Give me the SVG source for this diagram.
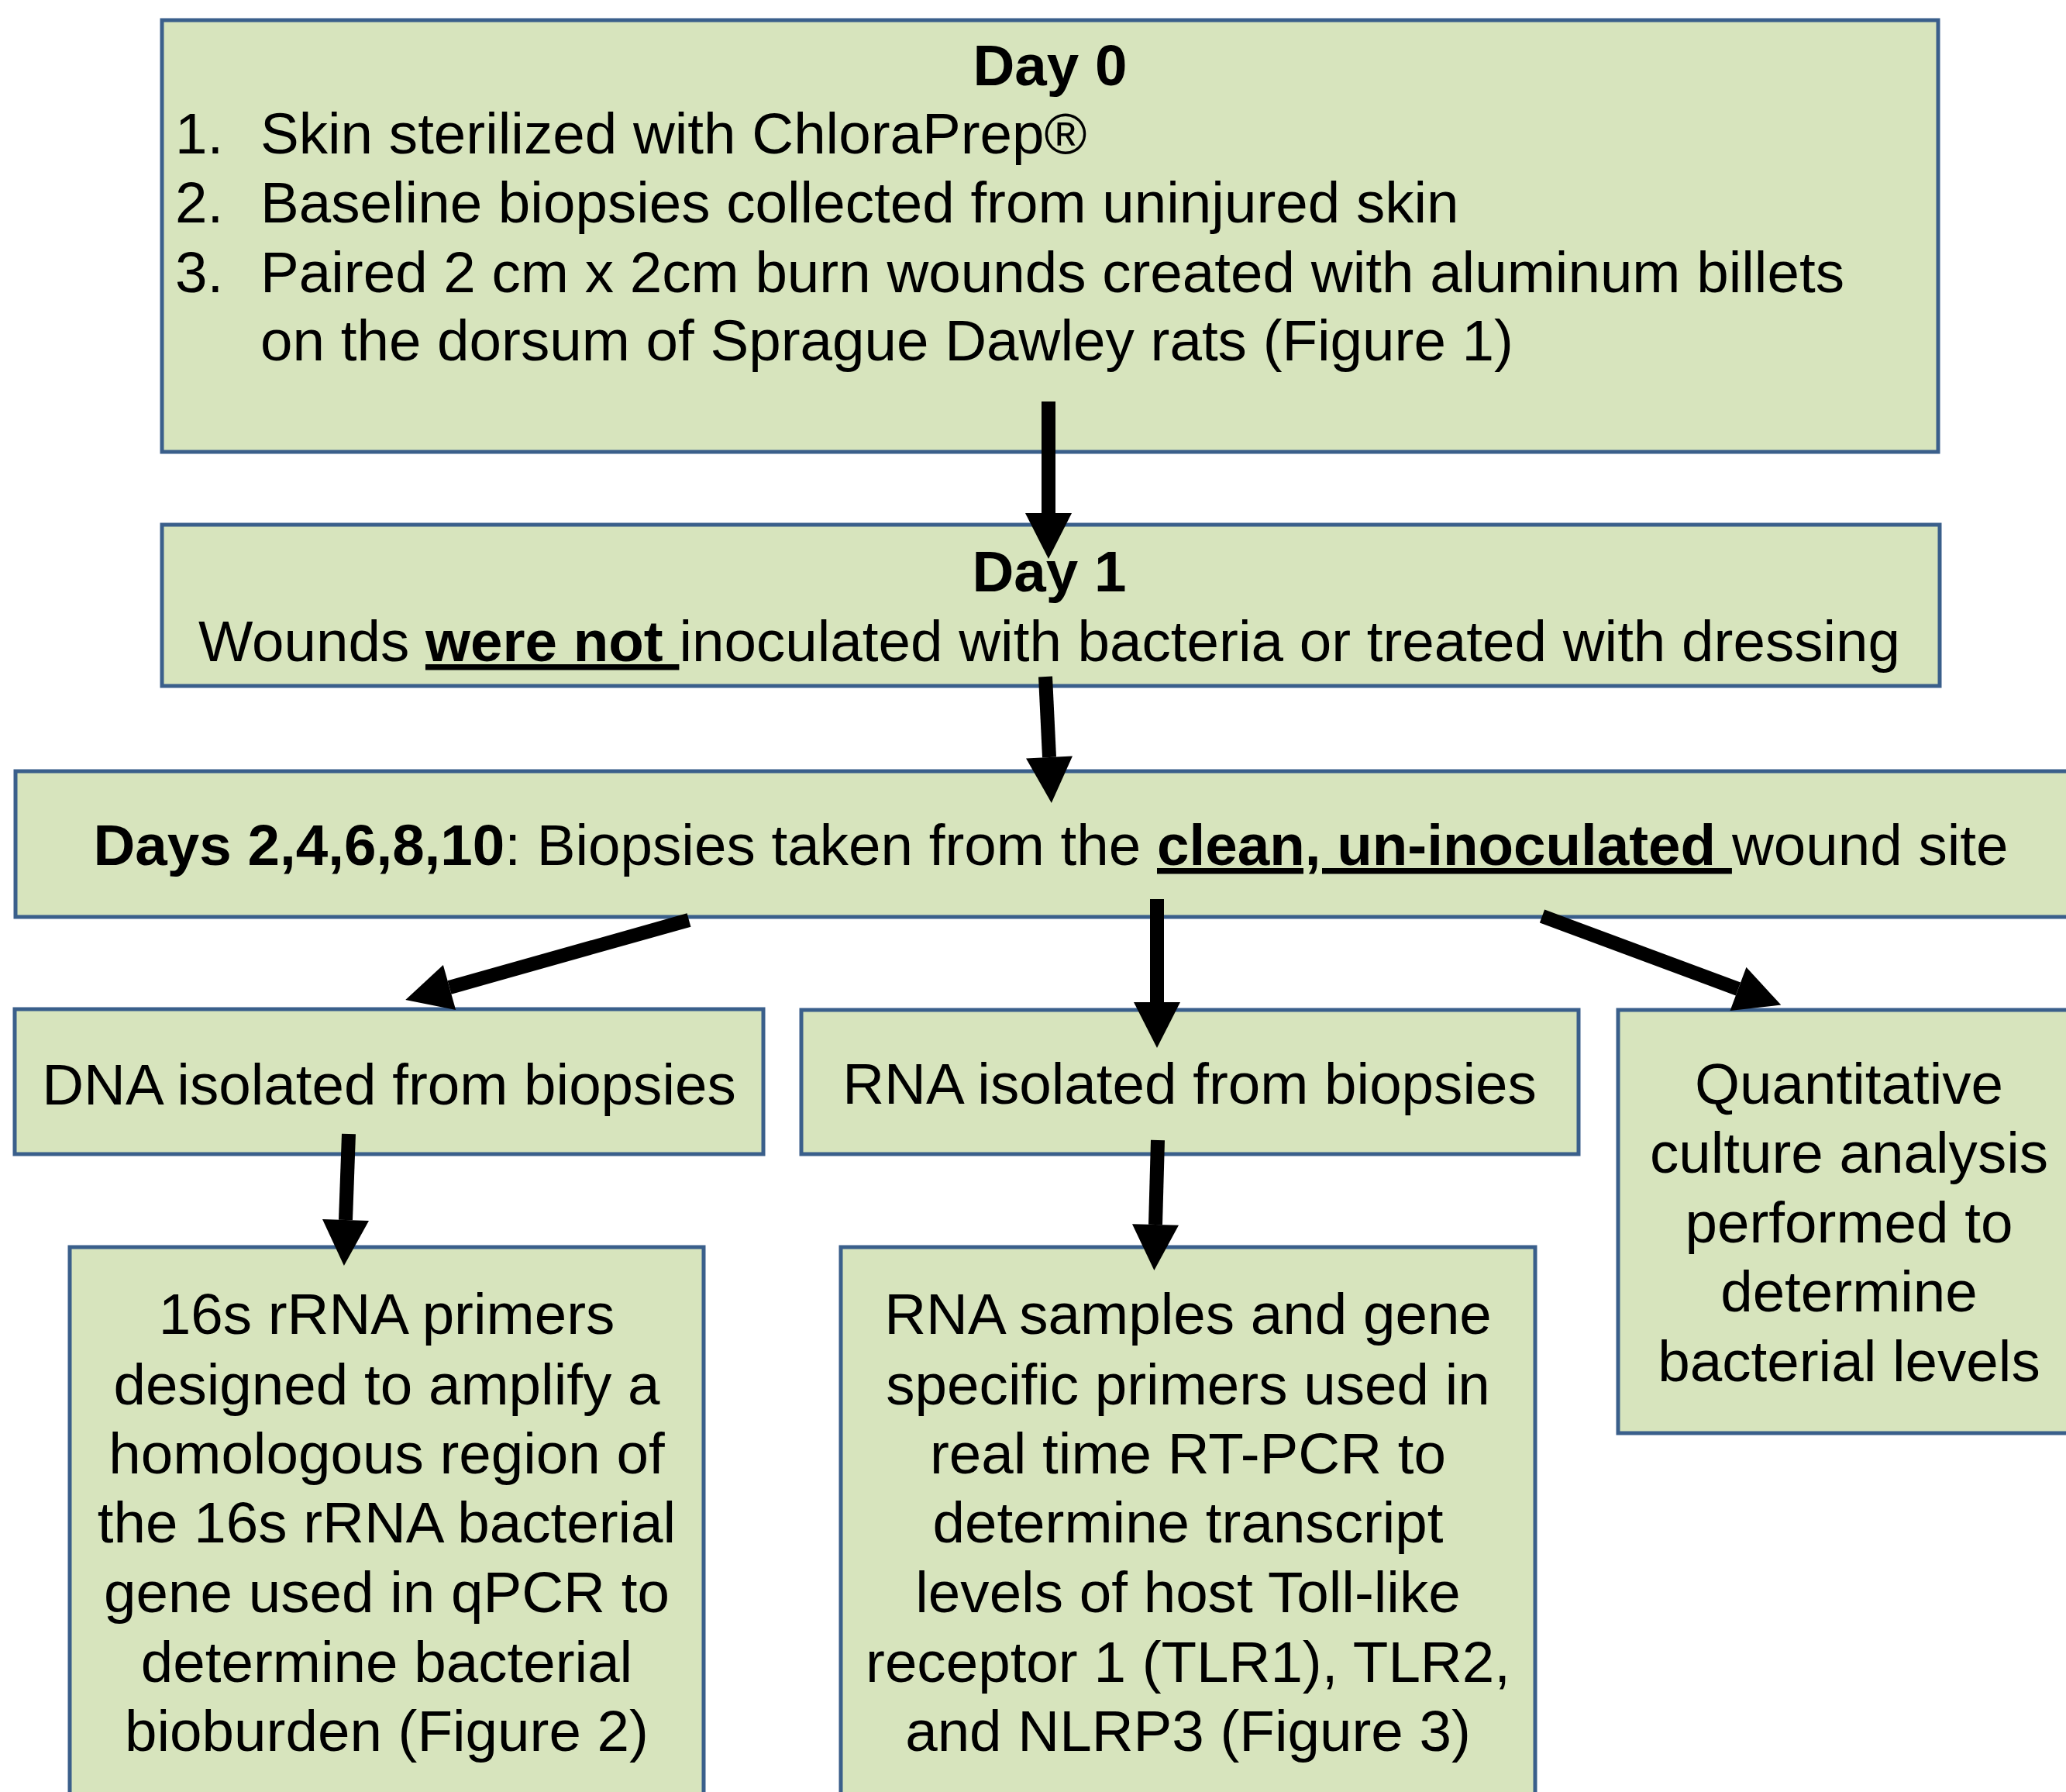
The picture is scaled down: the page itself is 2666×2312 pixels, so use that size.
<svg xmlns="http://www.w3.org/2000/svg" width="2666" height="2312" viewBox="0 0 2666 2312">
<style>
.box{fill:#D7E4BD;stroke:#3A5F8B;stroke-width:5}
.t{font-family:"Liberation Sans",Arial,sans-serif;font-size:74.6px;fill:#000}
.c{text-anchor:middle}
.b{font-weight:bold}
.u{text-decoration:underline}
.arr{stroke:#000;stroke-width:18;fill:none;marker-end:url(#head)}
</style>
<defs>
<marker id="head" markerUnits="userSpaceOnUse" markerWidth="60" markerHeight="60" viewBox="0 0 56 57" refX="0" refY="28.5" orient="auto">
<path d="M0,0 L56,28.5 L0,57 Z" fill="#000"/>
</marker>
</defs>
<rect width="2666" height="2312" fill="#fff"/>

<g id="day0">
<rect class="box" x="209" y="26" width="2292" height="557"/>
<text class="t b c" x="1355" y="110">Day 0</text>
<text class="t" x="226" y="198">1.</text>
<text class="t" x="336" y="198">Skin sterilized with ChloraPrep®</text>
<text class="t" x="226" y="287">2.</text>
<text class="t" x="336" y="287">Baseline biopsies collected from uninjured skin</text>
<text class="t" x="226" y="377">3.</text>
<text class="t" x="336" y="377">Paired 2 cm x 2cm burn wounds created with aluminum billets</text>
<text class="t" x="336" y="465">on the dorsum of Sprague Dawley rats (Figure 1)</text>
</g>

<g id="day1">
<rect class="box" x="209" y="677" width="2294" height="208"/>
<text class="t b c" x="1354" y="763">Day 1</text>
<text class="t c" x="1354" y="853">Wounds <tspan class="b u">were not </tspan>inoculated with bacteria or treated with dressing</text>
</g>

<g id="days">
<rect class="box" x="20" y="995" width="2680" height="188"/>
<text class="t c" x="1356" y="1116"><tspan class="b">Days 2,4,6,8,10</tspan>: Biopsies taken from the <tspan class="b u">clean, un-inoculated </tspan>wound site</text>
</g>

<g id="dna">
<rect class="box" x="19" y="1302" width="966" height="187"/>
<text class="t c" x="502" y="1425">DNA isolated from biopsies</text>
</g>

<g id="rna">
<rect class="box" x="1034" y="1303" width="1003" height="186"/>
<text class="t c" x="1535" y="1424">RNA isolated from biopsies</text>
</g>

<g id="quant">
<rect class="box" x="2088" y="1303" width="600" height="546"/>
<text class="t c" x="2386" y="1424">Quantitative</text>
<text class="t c" x="2386" y="1513">culture analysis</text>
<text class="t c" x="2386" y="1603">performed to</text>
<text class="t c" x="2386" y="1692">determine</text>
<text class="t c" x="2386" y="1782">bacterial levels</text>
</g>

<g id="s16">
<rect class="box" x="90" y="1609" width="818" height="740"/>
<text class="t c" x="499" y="1721">16s rRNA primers</text>
<text class="t c" x="499" y="1812">designed to amplify a</text>
<text class="t c" x="499" y="1901">homologous region of</text>
<text class="t c" x="499" y="1990">the 16s rRNA bacterial</text>
<text class="t c" x="499" y="2080">gene used in qPCR to</text>
<text class="t c" x="499" y="2170">determine bacterial</text>
<text class="t c" x="499" y="2259">bioburden (Figure 2)</text>
</g>

<g id="rnasamples">
<rect class="box" x="1085" y="1609" width="896" height="740"/>
<text class="t c" x="1533" y="1721">RNA samples and gene</text>
<text class="t c" x="1533" y="1812">specific primers used in</text>
<text class="t c" x="1533" y="1901">real time RT-PCR to</text>
<text class="t c" x="1533" y="1990">determine transcript</text>
<text class="t c" x="1533" y="2080">levels of host Toll-like</text>
<text class="t c" x="1533" y="2170">receptor 1 (TLR1), TLR2,</text>
<text class="t c" x="1533" y="2259">and NLRP3 (Figure 3)</text>
</g>

<g id="connectors">
<line class="arr" x1="1353" y1="518" x2="1353" y2="662"/>
<line class="arr" x1="1349" y1="873" x2="1354" y2="977"/>
<line class="arr" x1="889" y1="1187" x2="580" y2="1274"/>
<line class="arr" x1="1493" y1="1160" x2="1493" y2="1293"/>
<line class="arr" x1="1990" y1="1182" x2="2243" y2="1276"/>
<line class="arr" x1="450" y1="1463" x2="446" y2="1574"/>
<line class="arr" x1="1494" y1="1471" x2="1491" y2="1580"/>
</g>
</svg>
